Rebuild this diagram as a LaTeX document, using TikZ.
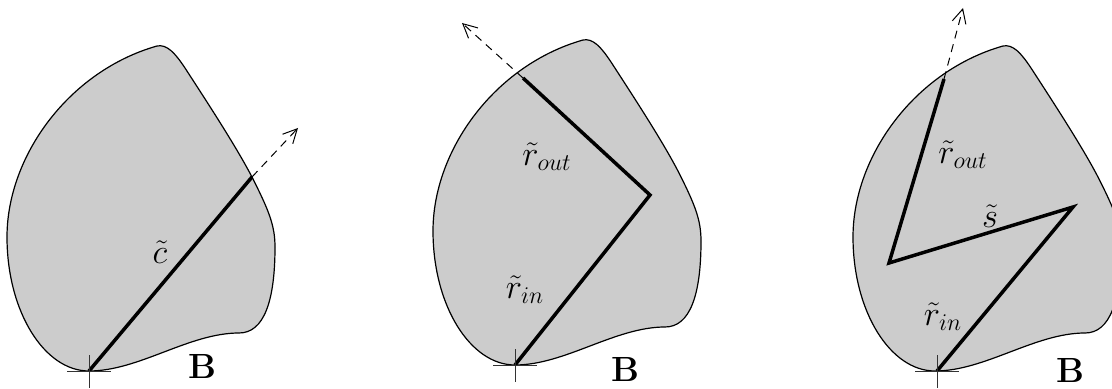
\documentclass[tikz,border=0pt]{standalone}
\usetikzlibrary{arrows.meta}
\tikzset{
  blobstyle/.style={fill=black!20, draw=black, line width=0.6pt},
  pathline/.style={line width=1.75pt, line join=miter, line cap=butt},
  exitarrow/.style={dashed, line width=0.5pt, dash pattern=on 4pt off 3pt, -{Straight Barb[length=7pt,width=7pt,line width=0.5pt]}},
  crossline/.style={line width=0.5pt, draw=black!80},
  mlabel/.style={font=\fontsize{18}{22}\selectfont, inner sep=0pt},
  blabel/.style={font=\fontsize{17.5}{21}\selectfont\bfseries, inner sep=0pt}
}
\newcommand\myblob{%
  (0,0) .. controls (-45,0) and (-82,-60) .. (-82,-134)
  .. controls (-82,-215) and (-20,-300) .. (68,-325)
  .. controls (78,-327) and (86,-318) .. (96,-303)
  .. controls (120,-266) and (150,-220) .. (165,-190)
  .. controls (180,-160) and (186,-145) .. (186,-124)
  .. controls (186,-70) and (175,-38) .. (150,-38)
  .. controls (100,-38) and (50,0) .. (0,0) -- cycle}
\newcommand\mycross[1]{%
  \draw[crossline] ([xshift=-11pt]#1) -- ([xshift=11pt]#1);
  \draw[crossline] ([yshift=8pt]#1) -- ([yshift=-8.5pt]#1);}
\begin{document}
\begin{tikzpicture}[x=0.5pt,y=-0.5pt]
\useasboundingbox (0,0) rectangle (1112,389);
\clip (0,0) rectangle (1112,389);
% ---------- blob 1 ----------
\begin{scope}[shift={(89,371)}]
  \path[blobstyle] \myblob;
\end{scope}
\coordinate (a0) at (89,371);
\coordinate (a1) at (252,177);
\coordinate (a2) at (298,128);
\draw[pathline] (a0) -- (a1);
\draw[exitarrow] (a1) -- (a2);
\node[mlabel] (lc) at (160,252) {$\tilde{c}$};
\node[blabel] (b1) at (202,366) {B};
\mycross{a0}
% ---------- blob 2 ----------
\begin{scope}[shift={(515,365)}]
  \path[blobstyle] \myblob;
\end{scope}
\coordinate (b0) at (515,365);
\coordinate (bc) at (650,195);
\coordinate (bx) at (523,78);
\coordinate (bt) at (462,23);
\draw[pathline] (b0) -- (bc) -- (bx);
\draw[exitarrow] (bx) -- (bt);
\node[mlabel] (lro2) at (547,157) {$\tilde{r}_{out}$};
\node[mlabel] (lri2) at (525,290) {$\tilde{r}_{in}$};
\node[blabel] (b2) at (625,369) {B};
\mycross{b0}
% ---------- blob 3 ----------
\begin{scope}[shift={(935,371)}]
  \path[blobstyle] \myblob;
\end{scope}
\coordinate (c0) at (937,371);
\coordinate (cr) at (1073,207);
\coordinate (cl) at (889,263);
\coordinate (cx) at (944,79);
\coordinate (ct) at (963,8);
\draw[pathline] (c0) -- (cr) -- (cl) -- (cx);
\draw[exitarrow] (cx) -- (ct);
\node[mlabel] (lro3) at (963,155) {$\tilde{r}_{out}$};
\node[mlabel] (ls3) at (990,216) {$\tilde{s}$};
\node[mlabel] (lri3) at (943,317) {$\tilde{r}_{in}$};
\node[blabel] (b3) at (1070,370) {B};
\mycross{c0}
\end{tikzpicture}
\end{document}
